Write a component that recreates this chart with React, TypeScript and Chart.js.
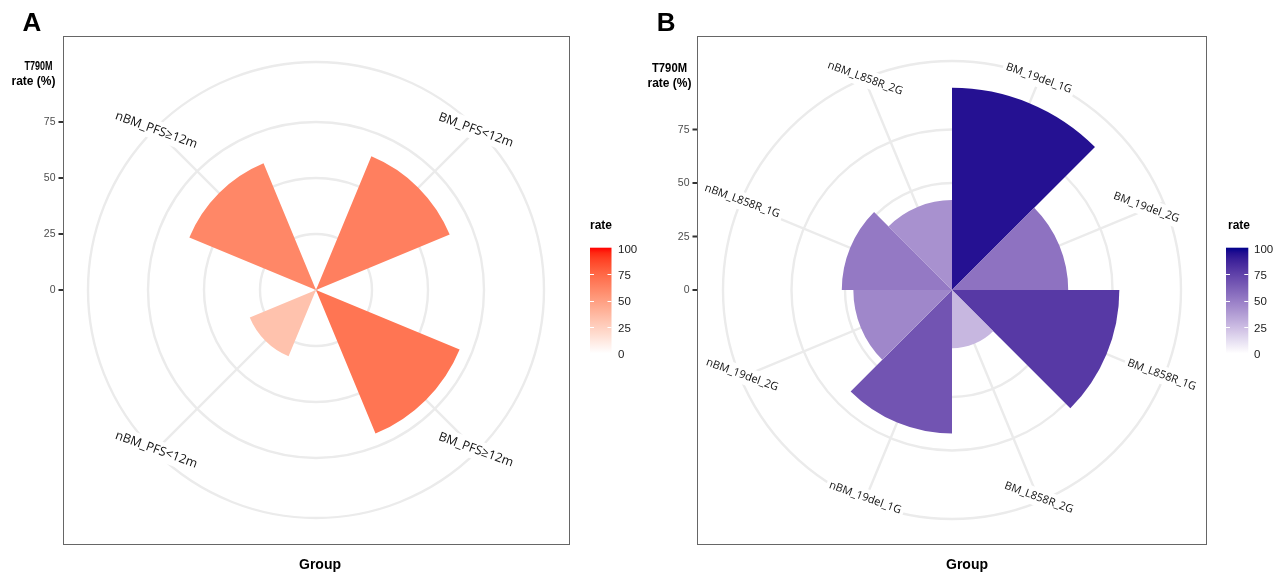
import React, { useEffect, useRef } from 'react';
import { Chart, registerables } from 'chart.js';

Chart.register(...registerables);

// ---------------- data ----------------
const groupsA = ['BM_PFS<12m', 'BM_PFS≥12m', 'nBM_PFS<12m', 'nBM_PFS≥12m'];
const ratesA = [64.6, 69.4, 32.0, 61.2];

const groupsB = [
  'BM_19del_1G',
  'BM_19del_2G',
  'BM_L858R_1G',
  'BM_L858R_2G',
  'nBM_19del_1G',
  'nBM_19del_2G',
  'nBM_L858R_1G',
  'nBM_L858R_2G',
];
const ratesB = [94.5, 54.3, 78.2, 27.2, 67.0, 46.1, 51.5, 42.0];

const rTicks = [0, 25, 50, 75];
const legendTicks = [0, 25, 50, 75, 100];
const legendRange = [0, 100];
const yTitleLines = ['T790M', 'rate (%)'];
const xTitle = 'Group';
const legendTitle = 'rate';

// ---------------- colour helpers (Lab gradient like ggplot) ----------------
function hexToRgb(h: string): number[] {
  const n = parseInt(h.slice(1), 16);
  return [(n >> 16) & 255, (n >> 8) & 255, n & 255];
}
function toLin(c: number) {
  c /= 255;
  return c <= 0.04045 ? c / 12.92 : Math.pow((c + 0.055) / 1.055, 2.4);
}
function fromLin(c: number) {
  const v = c <= 0.0031308 ? 12.92 * c : 1.055 * Math.pow(Math.max(c, 0), 1 / 2.4) - 0.055;
  return Math.round(Math.max(0, Math.min(1, v)) * 255);
}
const Xn = 0.95047, Yn = 1, Zn = 1.08883;
const EPS = 216 / 24389, KAPPA = 24389 / 27;
function fLab(t: number) {
  return t > EPS ? Math.cbrt(t) : (KAPPA * t + 16) / 116;
}
function fInv(t: number) {
  const t3 = t * t * t;
  return t3 > EPS ? t3 : (116 * t - 16) / KAPPA;
}
function rgbToLab(rgb: number[]) {
  const [r, g, b] = rgb.map(toLin);
  const X = 0.4124 * r + 0.3576 * g + 0.1805 * b;
  const Y = 0.2126 * r + 0.7152 * g + 0.0722 * b;
  const Z = 0.0193 * r + 0.1192 * g + 0.9505 * b;
  const fx = fLab(X / Xn), fy = fLab(Y / Yn), fz = fLab(Z / Zn);
  return [116 * fy - 16, 500 * (fx - fy), 200 * (fy - fz)];
}
function labToRgb(lab: number[]) {
  const [L, a, b] = lab;
  const fy = (L + 16) / 116, fx = fy + a / 500, fz = fy - b / 200;
  const X = Xn * fInv(fx), Y = Yn * fInv(fy), Z = Zn * fInv(fz);
  const r = 3.2406 * X - 1.5372 * Y - 0.4986 * Z;
  const g = -0.9689 * X + 1.8758 * Y + 0.0415 * Z;
  const bb = 0.0557 * X - 0.204 * Y + 1.057 * Z;
  return [fromLin(r), fromLin(g), fromLin(bb)];
}
function scaleColor(high: string, v: number) {
  const t = Math.max(0, Math.min(1, (v - legendRange[0]) / (legendRange[1] - legendRange[0])));
  const lo = rgbToLab([255, 255, 255]);
  const hi = rgbToLab(hexToRgb(high));
  const lab = lo.map((c, i) => c + (hi[i] - c) * t);
  const [r, g, b] = labToRgb(lab);
  return `rgb(${r},${g},${b})`;
}

// ---------------- styling ----------------
const GRID = '#EBEBEB';
const GRID_W = 2.4;
const SANS = '"Liberation Sans", Arial, sans-serif';
const LABEL_FONT = '"Open Sans", "Noto Sans", sans-serif';
const H = 572;

interface PanelCfg {
  tag: string;
  left: number;
  width: number;
  cx: number;
  cy: number;
  R: number;
  ppu: number;
  panel: number[];
  groups: string[];
  rates: number[];
  barFrac: number;
  high: string;
  labelSize: number;
  labelROff: number;
  labelDy: number;
  labelRFactor: number[];
  legend: { barX: number; barW: number; top: number; bottom: number; titleX: number; labelX: number };
  tagX: number;
  yTitle: { x: number[]; base: number[]; w: number[] };
  xTitleX: number;
}

const panelA: PanelCfg = {
  tag: 'A',
  left: 0,
  width: 643,
  cx: 316,
  cy: 290,
  R: 228,
  ppu: 2.24,
  panel: [63, 36, 570, 545],
  groups: groupsA,
  rates: ratesA,
  barFrac: 0.5,
  high: '#FF0000',
  labelSize: 12.5,
  labelROff: -2,
  labelDy: 0,
  labelRFactor: [1, 1, 1, 1],
  legend: { barX: 590, barW: 21.5, top: 247.7, bottom: 353.3, titleX: 590, labelX: 618 },
  tagX: 22.5,
  yTitle: { x: [38.5, 33.5], base: [70, 85], w: [28, 46] },
  xTitleX: 320,
};

const panelB: PanelCfg = {
  tag: 'B',
  left: 643,
  width: 644,
  cx: 309,
  cy: 290,
  R: 229,
  ppu: 2.14,
  panel: [54, 36, 564, 545],
  groups: groupsB,
  rates: ratesB,
  barFrac: 1,
  high: '#00008B',
  labelSize: 11,
  labelROff: -2,
  labelDy: -2,
  labelRFactor: [1, 0.927, 1, 1, 1, 1, 1, 1],
  legend: { barX: 583, barW: 22.3, top: 247.7, bottom: 353.3, titleX: 585, labelX: 611 },
  tagX: 13.7,
  yTitle: { x: [26.5, 26.5], base: [71.7, 87], w: [35, 46] },
  xTitleX: 324,
};

function buildConfig(cfg: PanelCfg): any {
  const n = cfg.groups.length;
  const slot = 360 / n;
  const barAng = slot * cfg.barFrac;
  const values: number[] = [];
  const colors: string[] = [];
  const angles: number[] = [];
  const labels: string[] = [];
  cfg.rates.forEach((v, i) => {
    values.push(v);
    colors.push(scaleColor(cfg.high, v));
    angles.push(barAng);
    labels.push(cfg.groups[i]);
    if (cfg.barFrac < 1) {
      values.push(0);
      colors.push('rgba(0,0,0,0)');
      angles.push(slot - barAng);
      labels.push('');
    }
  });
  const startAngle = (slot - barAng) / 2;
  const rMax = cfg.R / cfg.ppu;

  const decor = {
    id: 'decor',
    beforeDatasetsDraw(chart: any) {
      const s = chart.scales.r;
      const ctx = chart.ctx as CanvasRenderingContext2D;
      ctx.save();
      ctx.strokeStyle = GRID;
      ctx.lineWidth = GRID_W;
      for (let k = 0; k < n; k++) {
        const th = ((k + 0.5) * slot * Math.PI) / 180;
        ctx.beginPath();
        ctx.moveTo(s.xCenter, s.yCenter);
        ctx.lineTo(s.xCenter + s.drawingArea * Math.sin(th), s.yCenter - s.drawingArea * Math.cos(th));
        ctx.stroke();
      }
      ctx.restore();
    },
    afterDraw(chart: any) {
      const s = chart.scales.r;
      const ctx = chart.ctx as CanvasRenderingContext2D;
      const [pl, pt, pr, pb] = cfg.panel;
      ctx.save();

      // theta labels with white background
      ctx.font = `${cfg.labelSize}px ${LABEL_FONT}`;
      ctx.textAlign = 'center';
      ctx.textBaseline = 'middle';
      for (let k = 0; k < n; k++) {
        const th = ((k + 0.5) * slot * Math.PI) / 180;
        const r = (s.drawingArea + cfg.labelROff) * cfg.labelRFactor[k];
        const x = s.xCenter + r * Math.sin(th);
        const y = s.yCenter - r * Math.cos(th) + cfg.labelDy;
        const w = ctx.measureText(cfg.groups[k]).width;
        ctx.save();
        ctx.translate(x, y);
        ctx.rotate((20 * Math.PI) / 180);
        ctx.fillStyle = '#ffffff';
        const bh = cfg.labelSize + 7;
        ctx.fillRect(-w / 2 - 3, -bh / 2, w + 6, bh);
        ctx.fillStyle = '#111111';
        ctx.fillText(cfg.groups[k], 0, 0);
        ctx.restore();
      }

      // panel border
      ctx.strokeStyle = '#666666';
      ctx.lineWidth = 1;
      ctx.strokeRect(pl + 0.5, pt + 0.5, pr - pl - 1, pb - pt - 1);

      // r axis ticks on the left
      ctx.font = `10.5px ${SANS}`;
      ctx.textAlign = 'right';
      ctx.textBaseline = 'middle';
      rTicks.forEach((v) => {
        const y = s.yCenter - s.getDistanceFromCenterForValue(v);
        ctx.fillStyle = '#333333';
        ctx.fillRect(pl - 4.5, y - 1, 4.5, 2);
        ctx.fillStyle = '#4D4D4D';
        ctx.fillText(String(v), pl - 7.5, y + 0.5);
      });

      // y title
      ctx.fillStyle = '#000000';
      ctx.font = `bold 12px ${SANS}`;
      ctx.textAlign = 'center';
      ctx.textBaseline = 'alphabetic';
      yTitleLines.forEach((t, i) => {
        ctx.fillText(t, cfg.yTitle.x[i], cfg.yTitle.base[i], cfg.yTitle.w[i]);
      });

      // x title
      ctx.font = `bold 14px ${SANS}`;
      ctx.fillText(xTitle, cfg.xTitleX, 569);

      // panel tag
      ctx.font = `bold 26px ${SANS}`;
      ctx.textAlign = 'left';
      ctx.fillText(cfg.tag, cfg.tagX, 31);

      // legend colourbar
      const L = cfg.legend;
      ctx.font = `bold 12px ${SANS}`;
      ctx.fillText(legendTitle, L.titleX, 229);
      const grad = ctx.createLinearGradient(0, L.bottom, 0, L.top);
      for (let i = 0; i <= 20; i++) {
        const v = legendRange[0] + ((legendRange[1] - legendRange[0]) * i) / 20;
        grad.addColorStop(i / 20, scaleColor(cfg.high, v));
      }
      ctx.fillStyle = grad;
      ctx.fillRect(L.barX, L.top, L.barW, L.bottom - L.top);
      const yOf = (v: number) =>
        L.bottom - ((v - legendRange[0]) / (legendRange[1] - legendRange[0])) * (L.bottom - L.top);
      ctx.strokeStyle = '#ffffff';
      ctx.lineWidth = 1;
      legendTicks.forEach((v) => {
        if (v <= legendRange[0] || v >= legendRange[1]) return;
        const y = Math.round(yOf(v)) + 0.5;
        ctx.beginPath();
        ctx.moveTo(L.barX, y);
        ctx.lineTo(L.barX + 4, y);
        ctx.moveTo(L.barX + L.barW - 4, y);
        ctx.lineTo(L.barX + L.barW, y);
        ctx.stroke();
      });
      ctx.fillStyle = '#1a1a1a';
      ctx.font = `11.5px ${SANS}`;
      ctx.textBaseline = 'middle';
      legendTicks.forEach((v) => {
        ctx.fillText(String(v), L.labelX, yOf(v) + 1.8);
      });

      ctx.restore();
    },
  };

  return {
    type: 'polarArea',
    data: {
      labels,
      datasets: [
        {
          data: values,
          backgroundColor: colors,
          borderWidth: 0,
          angle: angles,
        },
      ],
    },
    options: {
      responsive: false,
      animation: false,
      layout: {
        padding: {
          left: cfg.cx - cfg.R,
          top: cfg.cy - cfg.R,
          right: cfg.width - (cfg.cx + cfg.R),
          bottom: H - (cfg.cy + cfg.R),
        },
      },
      plugins: {
        legend: { display: false },
        tooltip: { enabled: false },
        title: { display: false },
      },
      scales: {
        r: {
          min: 0,
          max: rMax,
          startAngle,
          ticks: { display: false },
          pointLabels: { display: false },
          angleLines: { display: false },
          grid: { circular: true, color: GRID, lineWidth: GRID_W },
          afterBuildTicks: (scale: any) => {
            scale.ticks = [...rTicks, rMax].map((v) => ({ value: v }));
          },
        },
      },
    },
    plugins: [decor],
  };
}

function PolarPanel({ cfg }: { cfg: PanelCfg }) {
  const ref = useRef<HTMLCanvasElement>(null);
  useEffect(() => {
    if (!ref.current) return;
    const chart = new Chart(ref.current, buildConfig(cfg));
    return () => chart.destroy();
  }, [cfg]);
  return (
    <canvas
      ref={ref}
      width={cfg.width}
      height={H}
      style={{ position: 'absolute', left: cfg.left, top: 0, width: cfg.width, height: H }}
    />
  );
}

export default function App() {
  return (
    <div
      style={{
        position: 'absolute',
        left: 0,
        top: 0,
        width: 1287,
        height: H,
        background: '#ffffff',
        overflow: 'hidden',
      }}
    >
      <PolarPanel cfg={panelA} />
      <PolarPanel cfg={panelB} />
    </div>
  );
}
